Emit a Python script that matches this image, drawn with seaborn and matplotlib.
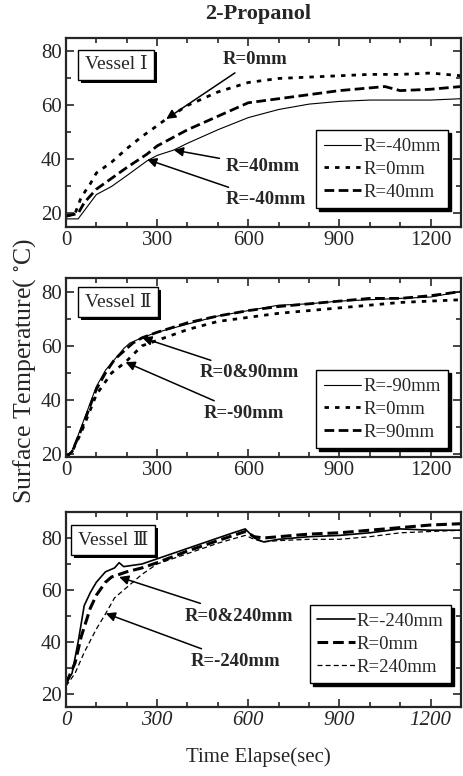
import numpy as np
import pandas as pd
import matplotlib
matplotlib.use("Agg")
import matplotlib.pyplot as plt
import matplotlib.patheffects as pe
from matplotlib.ticker import MultipleLocator
import seaborn as sns

# ---- data (time in s, temperature in deg C) ----
# Vessel I
t1_m40 = [0, 40, 60, 100, 150, 200, 267, 300, 355, 400, 500, 600, 700, 800, 900, 1000, 1100, 1200, 1300]
T1_m40 = [18, 18, 21, 27, 30, 34, 39.5, 41.5, 43.5, 46, 51, 55.5, 58.5, 60.5, 61.5, 62, 62, 62, 62.5]
t1_0 = [0, 30, 50, 80, 100, 150, 200, 250, 300, 330, 400, 500, 600, 700, 800, 900, 1000, 1100, 1200, 1300]
T1_0 = [19, 20, 26, 31, 35, 39, 44, 48.5, 52.5, 55, 60, 65, 68.5, 70, 70.5, 71, 71.5, 71.5, 72, 71]
t1_40 = [0, 40, 60, 100, 150, 200, 267, 300, 400, 500, 600, 700, 800, 900, 1000, 1050, 1100, 1200, 1300]
T1_40 = [19, 20, 24, 29, 33, 37, 42, 45, 51, 56, 61, 62.5, 64, 65.5, 66.5, 67, 65.5, 66, 67]

# Vessel II
t2_m90 = [0, 20, 50, 80, 100, 130, 160, 190, 210, 250, 300, 400, 500, 600, 700, 800, 900, 1000, 1100, 1200, 1300]
T2_m90 = [19, 21, 30, 39, 45, 51, 55, 59, 61, 63, 65, 68, 71, 73, 75, 75.5, 76.5, 77, 77.5, 78, 80]
t2_0 = [0, 20, 50, 100, 150, 196, 250, 300, 400, 500, 600, 700, 800, 900, 1000, 1100, 1200, 1300]
T2_0 = [19, 21, 28, 42, 50, 54, 60, 62, 66, 69, 70.5, 72, 73, 74, 75, 76, 76.5, 77]
t2_90 = [0, 20, 50, 80, 100, 130, 160, 190, 220, 251, 300, 400, 500, 600, 700, 800, 900, 1000, 1100, 1200, 1300]
T2_90 = [19, 21, 29, 38, 44, 50, 55, 58, 61, 63, 65, 68.5, 71, 73, 74.5, 75.5, 76.5, 77.5, 77.5, 78.5, 80]

# Vessel III
t3_m240 = [0, 20, 40, 60, 80, 100, 130, 160, 175, 190, 250, 300, 400, 500, 550, 590, 620, 650, 700, 800, 900, 1000, 1100, 1200, 1300]
T3_m240 = [24, 28, 40, 54, 59, 63, 67, 68.5, 70.5, 69, 70, 72, 76, 80, 82, 83.5, 80, 78.5, 79.5, 80.5, 81, 82, 83.5, 83, 83]
t3_0 = [0, 30, 50, 80, 100, 130, 150, 175, 200, 250, 300, 400, 500, 590, 620, 650, 700, 800, 900, 1000, 1100, 1200, 1300]
T3_0 = [24, 32, 42, 53, 58, 63, 65, 66, 67, 68.5, 70.5, 75, 79, 82.5, 80.5, 80, 80.5, 81.5, 82, 83, 84, 85, 85.5]
t3_240 = [0, 30, 60, 100, 131, 160, 200, 250, 300, 400, 500, 590, 620, 650, 700, 800, 900, 1000, 1100, 1200, 1300]
T3_240 = [23, 28, 36, 45, 51, 57, 61, 66, 70, 74, 78, 81, 79.5, 78.5, 79, 79.5, 79.5, 80.5, 82, 82.5, 83]

sns.set_style("ticks")
plt.rcParams["font.family"] = ["Liberation Serif", "DejaVu Serif"]
plt.rcParams["mathtext.fontset"] = "stix"

fig = plt.figure(figsize=(4.63, 7.76), dpi=100)
ax1 = fig.add_axes([0.1425, 0.7075, 0.853, 0.2436])
ax2 = fig.add_axes([0.1425, 0.411, 0.853, 0.2307])
ax3 = fig.add_axes([0.1425, 0.0889, 0.853, 0.2513])

DOT = (0, (1.6, 2.2))
DASH = (0, (3.5, 1.6))
THIN_DASH = (0, (4, 2.5))

panels = [
    (ax1, "Vessel \u2160", (15, 85),
     [(t1_m40, T1_m40, "R=-40mm", "-", 0.8),
      (t1_0, T1_0, "R=0mm", DOT, 2.0),
      (t1_40, T1_40, "R=40mm", DASH, 2.0)],
     [("R=0mm", (330, 55), (515, 77)),
      ("R=40mm", (355, 43.5), (525, 37.5)),
      ("R=-40mm", (267, 40), (525, 25))],
     (0.048, 0.857), (0.967, 0.10)),
    (ax2, "Vessel \u2161", (19, 85),
     [(t2_m90, T2_m90, "R=-90mm", "-", 0.8),
      (t2_0, T2_0, "R=0mm", DOT, 2.0),
      (t2_90, T2_90, "R=90mm", DASH, 2.0)],
     [("R=0&90mm", (251, 63), (440, 50)),
      ("R=-90mm", (196, 54), (453, 35))],
     (0.048, 0.866), (0.967, 0.05)),
    (ax3, "Vessel \u2162", (15, 90),
     [(t3_m240, T3_m240, "R=-240mm", "-", 1.2),
      (t3_0, T3_0, "R=0mm", DASH, 2.2),
      (t3_240, T3_240, "R=240mm", THIN_DASH, 0.9)],
     [("R=0&240mm", (175, 65), (392, 50)),
      ("R=-240mm", (131, 51), (412, 32.5))],
     (0.03, 0.856), (0.975, 0.123)),
]

for ax, vessel, ylim, series, notes, vpos, lpos in panels:
    for t, T, lab, ls, lw in series:
        df = pd.DataFrame({"t": t, "T": T})
        sns.lineplot(data=df, x="t", y="T", ax=ax, color="k", linestyle=ls,
                     linewidth=lw, label=lab)
    ax.set_xlim(0, 1300)
    ax.set_ylim(*ylim)
    ax.set_xlabel("")
    ax.set_ylabel("")
    ax.xaxis.set_major_locator(MultipleLocator(300))
    ax.xaxis.set_minor_locator(MultipleLocator(100))
    ax.yaxis.set_major_locator(MultipleLocator(20))
    ax.yaxis.set_minor_locator(MultipleLocator(10))
    ax.tick_params(which="both", direction="in", top=True, right=True,
                   labelsize=15, width=1.2, pad=3)
    ax.tick_params(which="major", length=6)
    ax.tick_params(which="minor", length=3.5)
    for s in ax.spines.values():
        s.set_linewidth(1.6)

    txt = ax.text(vpos[0], vpos[1], vessel, transform=ax.transAxes, fontsize=14,
                  ha="left", va="center",
                  bbox=dict(boxstyle="square,pad=0.35", fc="white", ec="k", lw=1.0))
    txt.get_bbox_patch().set_path_effects(
        [pe.SimplePatchShadow(offset=(2, -2), shadow_rgbFace="k", alpha=1.0), pe.Normal()])

    for lab, xy, xytext in notes:
        ax.annotate(lab, xy=xy, xytext=xytext, fontsize=13.5, fontweight="bold",
                    ha="left", va="center",
                    arrowprops=dict(arrowstyle="-|>", color="k", lw=1.1,
                                    mutation_scale=14, shrinkA=2, shrinkB=0))

    leg = ax.legend(loc="lower right", bbox_to_anchor=lpos, fontsize=13.5,
                    frameon=True, fancybox=False, shadow={"color": "k", "alpha": 1.0},
                    edgecolor="k", framealpha=1, handlelength=2.0,
                    handletextpad=0.1, labelspacing=0.3, borderpad=0.4,
                    borderaxespad=0)
    leg.get_frame().set_linewidth(1.0)

for lab in ax3.get_xticklabels():
    lab.set_fontstyle("italic")

fig.text(0.557, 0.982, "2-Propanol", ha="center", va="center",
         fontsize=16, fontweight="bold")
fig.text(0.557, 0.0245, "Time Elapse(sec)", ha="center", va="center", fontsize=15)
fig.text(0.054, 0.522, "Surface Temperature( $^{\\circ}$C)", ha="center", va="center",
         rotation=90, fontsize=18.5)

fig.savefig("out.png", dpi=100)
